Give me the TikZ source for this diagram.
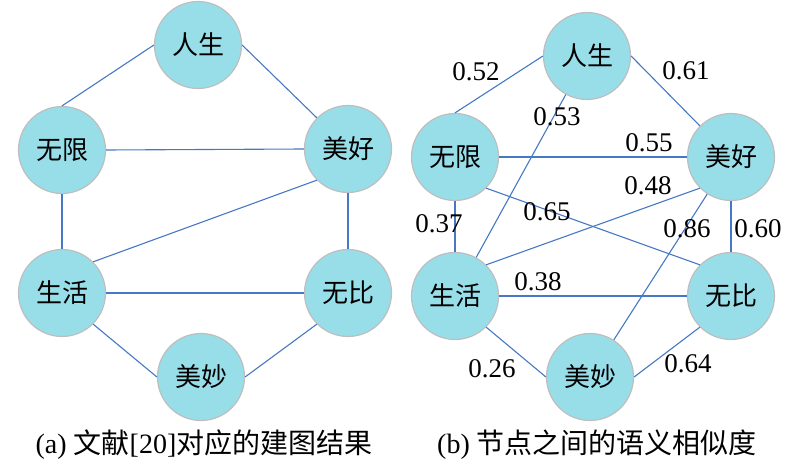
\documentclass[tikz,border=0pt]{standalone}
\usepackage{fontspec}
\setmainfont{Liberation Serif}
\newfontfamily\cjk{Noto Sans CJK SC}
\definecolor{nodefill}{RGB}{152,222,233}
\definecolor{nodeline}{RGB}{190,190,190}
\definecolor{edgeblue}{RGB}{70,120,195}
\begin{document}
\begin{tikzpicture}[x=1pt,y=-1pt,
  vert/.style={circle,fill=nodefill,draw=nodeline,line width=1.2pt,minimum size=87pt,inner sep=0pt,font=\cjk\fontsize{26}{26}\selectfont},
  edge/.style={draw=edgeblue,line width=1.1pt},
  wlabel/.style={font=\fontsize{27}{27}\selectfont,inner sep=0pt},
  capt/.style={font=\fontsize{28}{28}\selectfont,inner sep=0pt}]
\useasboundingbox (0,0) rectangle (800,465);
% panel (a)
\node[vert] (a1) at (198,45) {人生};
\node[vert] (a2) at (62,150) {无限};
\node[vert] (a3) at (348,149) {美好};
\node[vert] (a4) at (62,293) {生活};
\node[vert] (a5) at (348,293) {无比};
\node[vert] (a6) at (201,377) {美妙};
\draw[edge] (a1.west) -- (a2.north);
\draw[edge] (a1.east) -- (a3.north west);
\draw[edge] (a2.east) -- (a3.west);
\draw[edge] (a2.south) -- (a4.north);
\draw[edge] (a4.north east) -- (a3.south west);
\draw[edge] (a3.south) -- (a5.north);
\draw[edge] (a4.east) -- (a5.west);
\draw[edge] (a4.south east) -- (a6.west);
\draw[edge] (a6.east) -- (a5.south west);
\node[capt] (capa) at (204,445) {(a) {\cjk 文献}[20]{\cjk 对应的建图结果}};
% panel (b)
\node[vert] (b1) at (587,56) {人生};
\node[vert] (b2) at (455,157) {无限};
\node[vert] (b3) at (731,157) {美好};
\node[vert] (b4) at (455,296) {生活};
\node[vert] (b5) at (731,296) {无比};
\node[vert] (b6) at (590,377) {美妙};
\draw[edge] (b1.west) -- (b2.north);
\draw[edge] (b1.east) -- (b3.north west);
\draw[edge] (b1) -- (b4);
\draw[edge] (b2.east) -- (b3.west);
\draw[edge] (b2.south east) -- (b5.north west);
\draw[edge] (b4.north east) -- (b3.south west);
\draw[edge] (b3) -- (b6);
\draw[edge] (b3.south) -- (b5.north);
\draw[edge] (b2.south) -- (b4.north);
\draw[edge] (b4.east) -- (b5.west);
\draw[edge] (b4.south east) -- (b6.west);
\draw[edge] (b6.east) -- (b5.south west);
\node[wlabel] (l1) at (476,72) {0.52};
\node[wlabel] (l2) at (686,71) {0.61};
\node[wlabel] (l3) at (557,117) {0.53};
\node[wlabel] (l4) at (649,143) {0.55};
\node[wlabel] (l5) at (547,212) {0.65};
\node[wlabel] (l6) at (648,186) {0.48};
\node[wlabel] (l7) at (687,229) {0.86};
\node[wlabel] (l8) at (758,229) {0.60};
\node[wlabel] (l9) at (439,224) {0.37};
\node[wlabel] (l10) at (538,282) {0.38};
\node[wlabel] (l11) at (492,369) {0.26};
\node[wlabel] (l12) at (688,364) {0.64};
\node[capt] (capb) at (597,445) {(b) {\cjk 节点之间的语义相似度}};
\end{tikzpicture}
\end{document}
